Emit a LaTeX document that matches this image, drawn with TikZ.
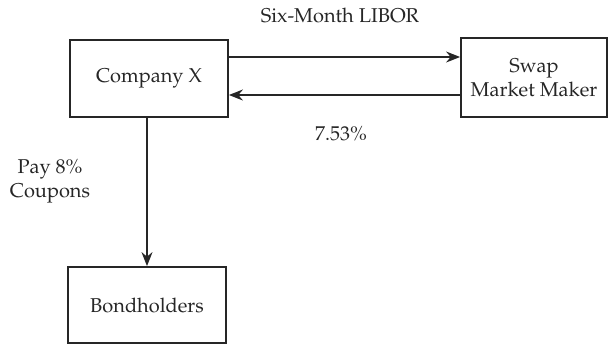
\documentclass[tikz,border=0pt]{standalone}
\usepackage[T1]{fontenc}
\usepackage{mathpazo}
\usetikzlibrary{arrows.meta}
\begin{document}
\begin{tikzpicture}[x=0.5pt, y=-0.5pt,
  party/.style={draw=black!85, line width=0.9pt, inner sep=0pt, align=center,
    text=black!85, font=\fontsize{10}{12}\selectfont},
  flow/.style={draw=black!85, line width=0.75pt,
    -{Stealth[length=7pt, width=5.5pt]}},
  lbl/.style={text=black!85, align=center, font=\fontsize{10}{12}\selectfont}]
  \useasboundingbox (0,0) rectangle (608,345);

  % parties
  \node[party, minimum width=79pt, minimum height=38.5pt] (cx) at (149,78.5) {Company X};
  \node[party, minimum width=73pt, minimum height=39.5pt] (sm) at (534,77.5) {Swap\\Market Maker};
  \node[party, minimum width=79pt, minimum height=38pt] (bh) at (147,305) {Bondholders};

  % levels of the two swap legs
  \coordinate (upper) at (0,57);
  \coordinate (lower) at (0,95);
  \coordinate (down) at (147,0);

  % cash flows
  \draw[flow] (cx.east |- upper) -- (sm.west |- upper);
  \draw[flow] (sm.west |- lower) -- (cx.east |- lower);
  \draw[flow] (cx.south -| down) -- (bh.north -| down);

  % labels
  \node[lbl] (libor) at (340,15) {Six-Month LIBOR};
  \node[lbl] (fixed) at (341,134) {7.53\%};
  \node[lbl] (coupon) at (50,181) {Pay 8\%\\Coupons};
\end{tikzpicture}
\end{document}
